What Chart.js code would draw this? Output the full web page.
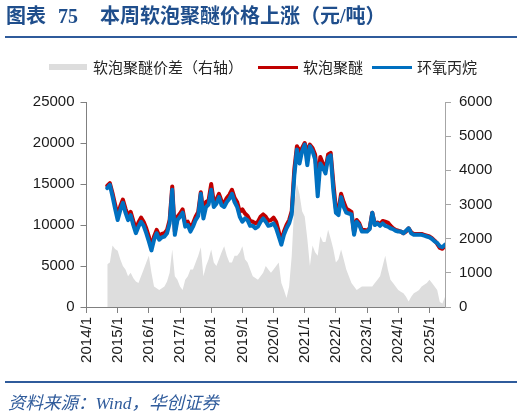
<!DOCTYPE html>
<html>
<head>
<meta charset="utf-8">
<script src="https://cdn.jsdelivr.net/npm/chart.js@4.4.1/dist/chart.umd.min.js"></script>
<style>
  body { margin: 0; background: #fff; }
  #wrap { position: relative; width: 524px; height: 417px; overflow: hidden; font-family: "Noto Sans CJK SC", sans-serif; }
  #chart { position: absolute; left: 0; top: 0; }
  .title { position: absolute; top: 4px; font-size: 20px; font-weight: bold; color: #1f4e8c; white-space: nowrap;
           font-family: "Liberation Serif", "Noto Sans CJK SC", serif; line-height: 24px; }
  .rule { position: absolute; left: 5px; width: 512px; height: 2px; background: #2f5b9b; }
  .lg { position: absolute; font-size: 15px; color: #262626; line-height: 20px; top: 57px; white-space: nowrap; }
  .sw { position: absolute; }
  .src { position: absolute; left: 8px; top: 391px; font-size: 17.5px; font-style: italic; color: #2f5b9b; white-space: nowrap;
         font-family: "Liberation Serif", "Noto Sans CJK SC", serif; line-height: 24px; }
</style>
</head>
<body>
<div id="wrap">
  <canvas id="chart" width="524" height="417"></canvas>
  <div class="title" style="left:6px;">图表</div>
  <div class="title" style="left:58px;">75</div>
  <div class="title" style="left:100px;">本周软泡聚醚价格上涨（元/吨）</div>
  <div class="rule" style="top:36px;"></div>
  <div class="sw" style="left:49px;top:64px;width:38px;height:6px;background:#dddddd;"></div>
  <div class="lg" style="left:93px;">软泡聚醚价差（右轴）</div>
  <div class="sw" style="left:258px;top:65.5px;width:40px;height:3px;background:#c00000;"></div>
  <div class="lg" style="left:303px;">软泡聚醚</div>
  <div class="sw" style="left:372px;top:65.5px;width:40px;height:3px;background:#0070c0;"></div>
  <div class="lg" style="left:417px;">环氧丙烷</div>
  <div class="rule" style="top:381px;"></div>
  <div class="src">资料来源：Wind，华创证券</div>
</div>
<script>
// monthly points, 2014/9 .. 2025/7
const firstYear = 2014;
const months = [];
for (let y = 2014, m = 9; months.length < 131; m++) {
  if (m > 12) { m = 1; y++; }
  months.push(y + "/" + m);
}

// 软泡聚醚 (元/吨)
const polyether = [
  14800, 15100, 13900, 12500, 11100, 12300, 13100, 12000, 11100, 11600,
  10500, 9500, 10300, 10900, 10400, 9600, 8600, 7300, 8600, 9400,
  8700, 8900, 9000, 9400, 10600, 14700, 9200, 11000, 11400, 11900,
  10200, 10400, 9700, 10200, 11000, 11600, 14000, 11400, 12800, 13000,
  15000, 12800, 13100, 13800, 12900, 12700, 13300, 13700, 14300, 13300,
  12800, 11600, 11900, 11400, 11100, 10500, 10400, 10200, 10400, 11000,
  11300, 11000, 10500, 10600, 10900, 10400, 9200, 8000, 9200, 10000,
  10600, 11700, 16800, 19600, 19000, 19400, 20000, 18800, 19800, 19400,
  18600, 15000, 18300, 17500, 16800, 18600, 18800, 15200, 12000, 11800,
  13800, 12800, 12000, 11800, 11600, 9100, 10600, 10200, 9400, 9400,
  9300, 9600, 11500, 10100, 10300, 10100, 10500, 10400, 10300, 9900,
  9600, 9400, 9300, 9200, 9000, 9200, 9600, 9100, 8900, 8900,
  8900, 8900, 8800, 8700, 8600, 8400, 8100, 7700, 7200, 7100, 7500
];

// 环氧丙烷 (元/吨)
const propyleneOxide = [
  14500, 14900, 13500, 12000, 10600, 11800, 12700, 11500, 10600, 11200,
  10000, 9000, 9800, 10400, 9900, 9000, 8000, 6900, 8200, 9000,
  8200, 8500, 8600, 9000, 10200, 14300, 8800, 10600, 11000, 11500,
  9800, 10000, 9200, 9800, 10600, 11100, 13800, 10800, 12200, 12500,
  14300, 12200, 12600, 13400, 12400, 12200, 12800, 13200, 13800, 12800,
  12200, 11000, 10400, 10800, 10600, 9900, 9900, 9600, 9800, 10400,
  10800, 10400, 9900, 10000, 10200, 9600, 8600, 7600, 8800, 9600,
  10200, 11300, 16000, 19200, 17500, 19000, 19800, 17300, 19600, 19000,
  18000, 13500, 17500, 17000, 16300, 18200, 18500, 14300, 11500, 11200,
  13400, 12200, 11500, 11400, 11300, 8800, 10400, 10000, 9200, 9200,
  9200, 9500, 11500, 10000, 10200, 9900, 10200, 9900, 9800, 9600,
  9500, 9300, 9200, 9200, 9000, 9300, 9600, 9000, 8800, 8800,
  8800, 8800, 8700, 8600, 8500, 8300, 8000, 7800, 7400, 7300, 7600
];

// 软泡聚醚价差 (右轴)
const spread = [
  1250, 1300, 1800, 1700, 1650, 1400, 1200, 1100, 900, 1000,
  850, 750, 700, 900, 1100, 1300, 1500, 1000, 600, 550,
  500, 550, 600, 750, 1000, 1680, 900, 800, 600, 500,
  800, 900, 1100, 1100, 1300, 1500, 1750, 900, 1200, 1400,
  1680, 1300, 1200, 1400, 1600, 1780, 1500, 1300, 1300, 1500,
  1500, 1600, 1780, 1400, 1300, 1100, 900, 850, 800, 900,
  1000, 1200, 1100, 1000, 1100, 1200, 1300, 700, 500, 260,
  600, 1500, 3000, 3600, 3300, 2800, 2650, 2000, 1200, 1800,
  1600, 1500, 2070, 1900, 1900, 2260, 2000, 1700, 1300, 1400,
  1680, 1400, 1100, 900, 700, 600, 500, 550, 600, 600,
  600, 600, 600, 700, 800, 900, 1200, 1500, 1100, 800,
  700, 600, 500, 450, 400, 300, 160, 300, 400, 450,
  500, 600, 650, 700, 800, 700, 600, 500, 150, 100, 300
];

const yearTicks = ["2014/1", "2015/1", "2016/1", "2017/1", "2018/1", "2019/1", "2020/1", "2021/1", "2022/1", "2023/1", "2024/1", "2025/1"];

function monthIndex(label) {
  const [y, m] = label.split("/").map(Number);
  return (y - firstYear) * 12 + (m - 1);
}

function toPoints(values) {
  return months.map((m, i) => ({ x: monthIndex(m), y: values[i] }));
}

const tickFont = { family: "'Liberation Sans', Arial, sans-serif", size: 15 };
const axisColor = "#808080";
const plain = (v) => String(v);

new Chart(document.getElementById("chart"), {
  type: "line",
  data: {
    datasets: [
      {
        label: "环氧丙烷",
        data: toPoints(propyleneOxide),
        borderColor: "#0070c0",
        borderWidth: 4,
        borderJoinStyle: "round",
        borderCapStyle: "round",
        pointRadius: 0,
        yAxisID: "y",
        order: 0
      },
      {
        label: "软泡聚醚",
        data: toPoints(polyether),
        borderColor: "#c00000",
        borderWidth: 4,
        borderJoinStyle: "round",
        borderCapStyle: "round",
        pointRadius: 0,
        yAxisID: "y",
        order: 1
      },
      {
        label: "软泡聚醚价差（右轴）",
        data: toPoints(spread),
        borderWidth: 0,
        borderColor: "rgba(0,0,0,0)",
        backgroundColor: "#dddddd",
        fill: "origin",
        pointRadius: 0,
        yAxisID: "y1",
        order: 2
      }
    ]
  },
  options: {
    responsive: false,
    animation: false,
    layout: { padding: { top: 102, left: 0, right: 0, bottom: 0 } },
    plugins: { legend: { display: false }, tooltip: { enabled: false } },
    scales: {
      x: {
        type: "linear",
        min: 0,
        max: 138,
        afterFit: (s) => { s.height = 110; },
        grid: { drawOnChartArea: false, tickLength: 6, color: axisColor },
        border: { color: axisColor },
        ticks: {
          stepSize: 12,
          includeBounds: false,
          autoSkip: false,
          minRotation: 90,
          maxRotation: 90,
          padding: 4,
          color: "#1a1a1a",
          font: tickFont,
          callback: (v) => yearTicks[v / 12] || null
        }
      },
      y: {
        position: "left",
        min: 0,
        max: 25000,
        afterFit: (s) => { s.width = 86.5; },
        grid: { drawOnChartArea: false, tickLength: 6, color: axisColor },
        border: { color: axisColor },
        ticks: { stepSize: 5000, padding: 6, color: "#1a1a1a", font: tickFont, callback: plain }
      },
      y1: {
        position: "right",
        min: 0,
        max: 6000,
        afterFit: (s) => { s.width = 79; },
        grid: { drawOnChartArea: false, tickLength: 6, color: "#a6a6a6" },
        border: { color: "#a6a6a6" },
        ticks: { stepSize: 1000, padding: 8, color: "#1a1a1a", font: tickFont, callback: plain }
      }
    }
  }
});
</script>
</body>
</html>
